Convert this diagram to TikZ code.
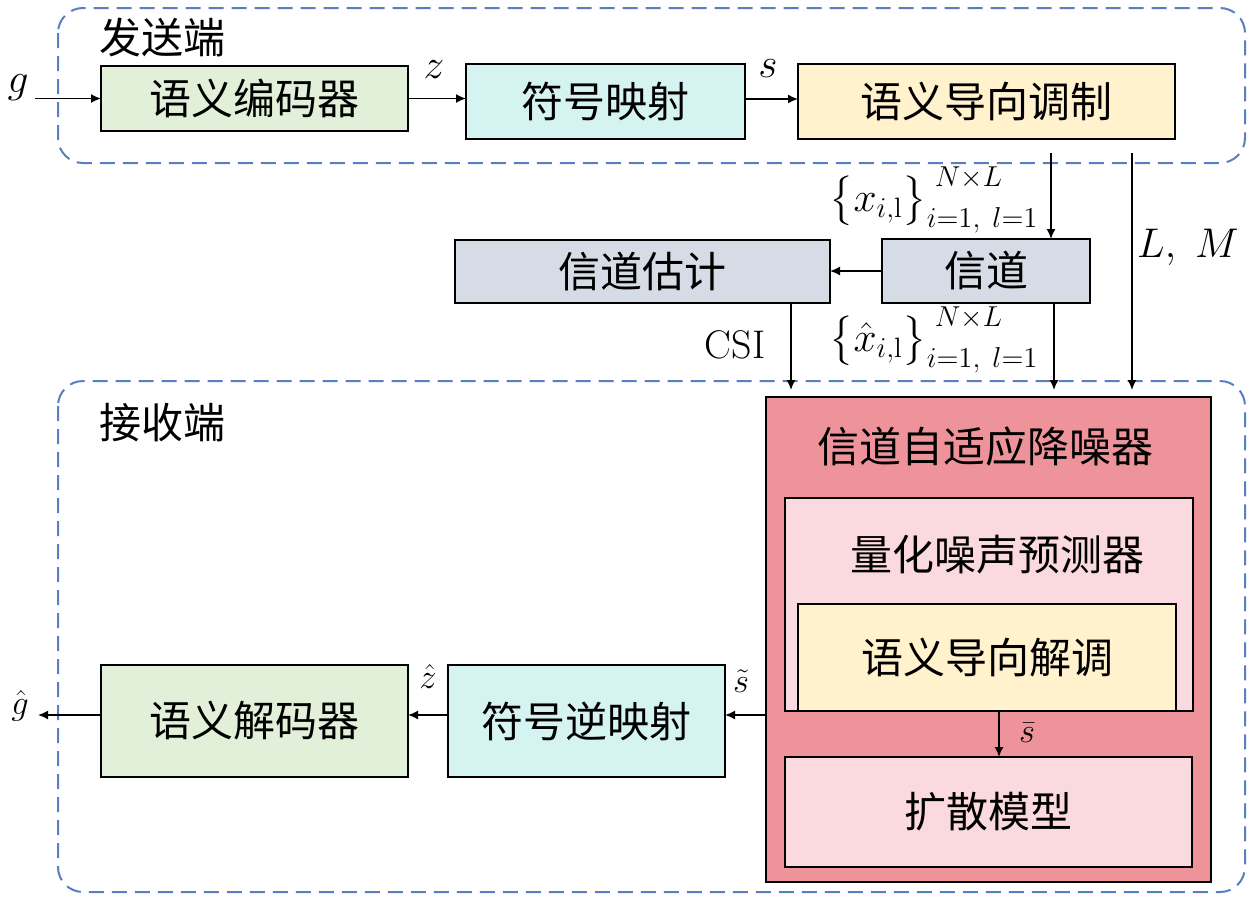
\documentclass[tikz,border=0pt]{standalone}
\usepackage{amsmath}
\usepackage{fontspec}
\newfontfamily\cjk{Noto Sans CJK SC}
\usetikzlibrary{arrows.meta}
\definecolor{cgreen}{HTML}{E2F0D9}
\definecolor{ccyan}{HTML}{D5F3F1}
\definecolor{cyellow}{HTML}{FFF2CC}
\definecolor{cgray}{HTML}{D6DCE5}
\definecolor{cred}{HTML}{EF939B}
\definecolor{cpink}{HTML}{FADADF}
\definecolor{cdash}{HTML}{5A7EC0}
\begin{document}
\begin{tikzpicture}[x=0.5pt,y=-0.5pt,
  blk/.style={draw=black, line width=1pt, inner sep=0pt, outer sep=0pt, font=\fontsize{21}{24}\selectfont\cjk},
  grp/.style={draw=cdash, line width=1pt, dash pattern=on 7.5pt off 4pt, rounded corners=12.5pt},
  arr/.style={-{Latex[length=5pt,width=4.5pt]}, line width=0.8pt},
  cjklab/.style={inner sep=0pt, font=\fontsize{21}{24}\selectfont\cjk},
  mlab/.style={inner sep=0pt, font=\fontsize{20}{24}\selectfont},
  slab/.style={inner sep=0pt, font=\fontsize{18}{20}\selectfont}]
\useasboundingbox (0,0) rectangle (1260,900);
% groups
\draw[grp] (58,8) rectangle (1245,163);
\draw[grp] (58,381) rectangle (1245,892);
\node[cjklab] (tx) at (162,38) {发送端};
\node[cjklab] (rx) at (162,423) {接收端};
% transmitter
\node[blk, fill=cgreen, minimum width=153.5pt, minimum height=32.5pt] (enc) at (254.5,98.5) {语义编码器};
\node[blk, fill=ccyan, minimum width=139.5pt, minimum height=37.5pt] (map) at (605.5,101.5) {符号映射};
\node[blk, fill=cyellow, minimum width=188.5pt, minimum height=37.5pt] (mod) at (986.5,101.5) {语义导向调制};
% channel
\node[blk, fill=cgray, minimum width=187.5pt, minimum height=31.5pt] (est) at (642.5,271.5) {信道估计};
\node[blk, fill=cgray, minimum width=104pt, minimum height=32pt] (ch) at (986,271) {信道};
% receiver
\node[blk, fill=cred, line width=1.2pt, minimum width=222.5pt, minimum height=242.5pt] (den) at (988.5,639.5) {};
\node[cjklab] (dent) at (985,447) {信道自适应降噪器};
\node[blk, fill=cpink, minimum width=204pt, minimum height=106.5pt] (qnp) at (989,604.5) {};
\node[cjklab] (qnpt) at (997,555) {量化噪声预测器};
\node[blk, fill=cyellow, minimum width=189pt, minimum height=53.5pt] (dem) at (987,657.5) {语义导向解调};
\node[blk, fill=cpink, minimum width=203.5pt, minimum height=55pt] (dif) at (988.5,812) {扩散模型};
\node[blk, fill=ccyan, minimum width=138.5pt, minimum height=56pt] (inv) at (586.5,721) {符号逆映射};
\node[blk, fill=cgreen, minimum width=153.5pt, minimum height=56pt] (dec) at (254.5,721) {语义解码器};
% coordinates
\coordinate (gin) at (35,98.5);
\coordinate (gout) at (38,715);
\coordinate (m1) at (1051,153);
\coordinate (m2) at (1132,153);
\coordinate (c1) at (1054,303);
\coordinate (e1) at (791,303);
% connectors
\draw[arr] (gin) -- (enc.west);
\draw[arr] (enc.east) -- (enc.east -| map.west);
\draw[arr] (map.east |- 0,99) -- (mod.west |- 0,99);
\draw[arr] (m1) -- (m1 |- ch.north);
\draw[arr, shorten >=3.5pt] (m2) -- (m2 |- den.north);
\draw[arr] (ch.west) -- (ch.west -| est.east);
\draw[arr, shorten >=3.5pt] (c1) -- (c1 |- den.north);
\draw[arr, shorten >=3.5pt] (e1) -- (e1 |- den.north);
\draw[arr] (dem.south -| 999,0) -- (dif.north -| 999,0);
\draw[arr] (den.west |- 0,715) -- (inv.east |- 0,715);
\draw[arr] (inv.west |- 0,715) -- (dec.east |- 0,715);
\draw[arr] (dec.west |- 0,715) -- (gout);
% labels
\node[mlab] (lg) at (18,88) {$g$};
\node[mlab] (lz) at (434,70) {$z$};
\node[mlab] (ls) at (768,69) {$s$};
\node[mlab] (lx) at (934,200) {$\big\{x_{i,\mathrm{l}}\big\}_{i=1,\ l=1}^{\;N\times L}$};
\node[mlab] (lxh) at (934,340) {$\big\{\hat{x}_{i,\mathrm{l}}\big\}_{i=1,\ l=1}^{\;N\times L}$};
\node[mlab] (lcsi) at (735,345) {CSI};
\node[mlab] (llm) at (1188,247) {$L,\ M$};
\node[slab] (lgh) at (20,706) {$\hat{g}$};
\node[slab] (lzh) at (428,676) {$\hat{z}$};
\node[slab] (lst) at (741,681) {$\tilde{s}$};
\node[slab] (lsb) at (1027,733) {$\bar{s}$};
\end{tikzpicture}
\end{document}
